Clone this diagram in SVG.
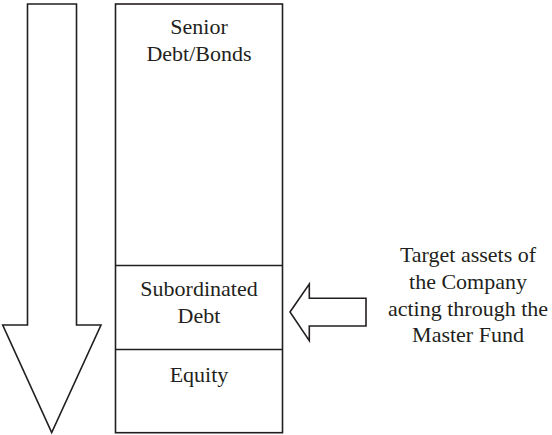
<svg xmlns="http://www.w3.org/2000/svg" width="552" height="435" viewBox="0 0 552 435">
<style>
.s{fill:#fff;stroke:#231f20;stroke-width:1.6;stroke-linejoin:miter}
.l{stroke:#231f20;stroke-width:1.6}
.t{font-family:'Liberation Serif',serif;font-size:22px;fill:#231f20;text-anchor:middle}
</style>
<rect width="552" height="435" fill="#fff"/>
<g id="priority-arrow">
<polygon class="s" points="27.5,4 76.5,4 76.5,325 101,325 51.7,432.5 2.7,325 27.5,325"/>
</g>
<g id="capital-stack">
<rect class="s" x="115.5" y="4" width="167" height="428.7"/>
</g>
<g class="t" font-family="Liberation Serif, serif">
<g id="senior">
<text x="199" y="34">Senior</text>
<text x="199" y="61">Debt/Bonds</text>
</g>
<g id="subordinated">
<line class="l" x1="115.5" y1="265.5" x2="282.5" y2="265.5"/>
<text x="199" y="296">Subordinated</text>
<text x="199" y="323">Debt</text>
</g>
<g id="equity">
<line class="l" x1="115.5" y1="349.5" x2="282.5" y2="349.5"/>
<text x="199" y="381.5">Equity</text>
</g>
<g id="target">
<text x="468" y="262">Target assets of</text>
<text x="468" y="289">the Company</text>
<text x="468" y="316">acting through the</text>
<text x="468" y="342">Master Fund</text>
</g>
</g>
<g id="connectors">
<polygon class="s" points="290,312 309.3,284 309.3,298.3 366,298.3 366,326 309.3,326 309.3,340.7"/>
</g>
</svg>
